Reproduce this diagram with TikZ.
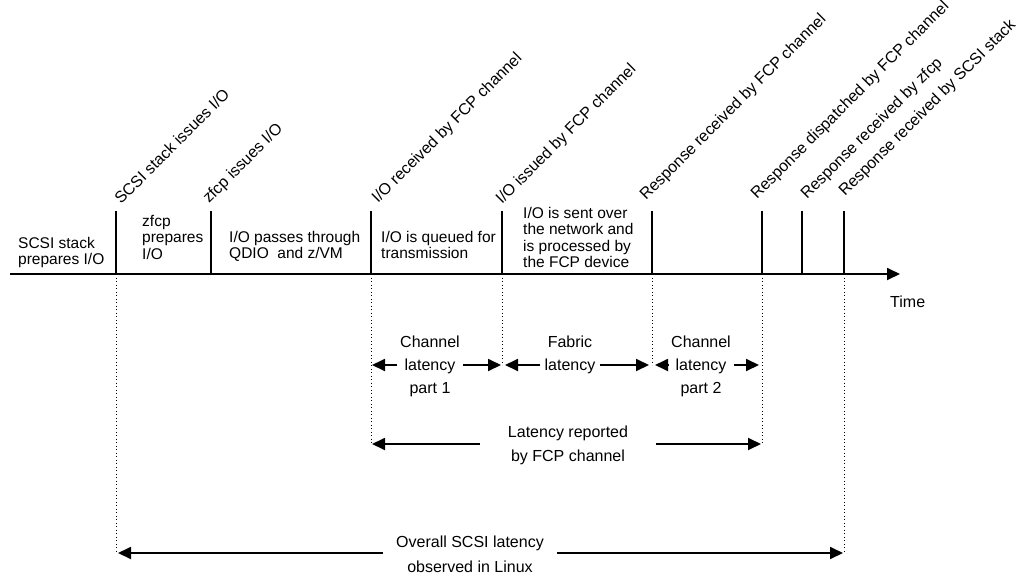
\documentclass[tikz,border=0pt]{standalone}
\usepackage{fontspec}
\setmainfont{Liberation Sans}
\usetikzlibrary{arrows.meta}
\begin{document}
\begin{tikzpicture}[x=1pt,y=-1pt,
  tip/.style={-{Triangle[length=13pt,width=12pt]}},
  axis/.style={line width=1.8pt, tip},
  tick/.style={line width=1.8pt},
  guide/.style={line width=1pt, dash pattern=on 1.2pt off 2.3pt},
  span/.style={line width=1.8pt, tip},
  phase/.style={inner sep=0pt, align=left, anchor=north west,
    font=\fontsize{15.5}{16.6}\selectfont},
  event/.style={inner sep=0pt, anchor=base west, rotate=45,
    font=\fontsize{16}{18}\selectfont},
  measure/.style={inner ysep=0pt, inner xsep=3pt, align=center, anchor=north,
    font=\fontsize{16}{23}\selectfont},
]
\useasboundingbox (0,0) rectangle (1024,575);

% event positions on the time axis
\foreach \n/\x in {1/116,2/211,3/371,4/502,5/652,6/762,7/802,8/844} {
  \coordinate (t\n) at (\x,274);
  \coordinate (h\n) at (\x,211);
}

% time axis
\coordinate (ax0) at (10,274);
\coordinate (ax1) at (900,274);
\draw[axis] (ax0) -- (ax1);
\node[anchor=base west, inner sep=0pt, font=\fontsize{16}{18}\selectfont] (time) at (890,307) {Time};

% event ticks
\foreach \n in {1,...,8} \draw[tick] (t\n) -- (h\n);

% event labels
\node[event] (e1) at (121,205) {SCSI stack issues I/O};
\node[event] (e2) at (209,204) {zfcp issues I/O};
\node[event] (e3) at (378,204) {I/O received by FCP channel};
\node[event] (e4) at (502,205) {I/O issued by FCP channel};
\node[event] (e5) at (646,201) {Response received by FCP channel};
\node[event] (e6) at (757,200) {Response dispatched by FCP channel};
\node[event] (e7) at (807,200) {Response received by zfcp};
\node[event] (e8) at (845,197) {Response received by SCSI stack};

% phase descriptions
\node[phase] (p0) at (18,236.7) {SCSI stack\\prepares I/O};
\node[phase] (p1) at (142,214.7) {zfcp\\prepares\\I/O};
\node[phase] (p2) at (229,230.7) {I/O passes through\\QDIO\ \ and z/VM};
\node[phase] (p3) at (381,230.7) {I/O is queued for\\transmission};
\node[phase] (p4) at (523,206.7) {I/O is sent over\\the network and\\is processed by\\the FCP device};

% guide lines below the axis
\coordinate (g1) at (116,553);
\coordinate (g3) at (371,444);
\coordinate (g4) at (502,365);
\coordinate (g5) at (652,365);
\coordinate (g6) at (762,444);
\coordinate (g8) at (844,553);
\foreach \n in {1,3,4,5,6,8} \draw[guide] (t\n) -- (g\n);

% arrow end points
\coordinate (r1a) at (372,365);
\coordinate (r1b) at (501,365);
\coordinate (r2a) at (505,365);
\coordinate (r2b) at (649,365);
\coordinate (r3a) at (655,365);
\coordinate (r3b) at (759,365);
\coordinate (r4a) at (372,444);
\coordinate (r4b) at (761,444);
\coordinate (r5a) at (118,553);
\coordinate (r5b) at (843,553);

% latency measures
\node[measure] (m1) at (430,335.4) {Channel\\latency\\part 1};
\node[measure, inner xsep=4pt] (m2) at (570,335.4) {Fabric\\latency};
\node[measure] (m3) at (701,335.4) {Channel\\latency\\part 2};
\node[measure, inner xsep=28pt, font=\fontsize{16}{24}\selectfont] (m4) at (568,425.4) {Latency reported\\by FCP channel};
\node[measure, inner xsep=13pt, font=\fontsize{16}{25}\selectfont] (m5) at (470,535.4) {Overall SCSI latency\\observed in Linux};

\draw[span] (m1.west |- r1a) -- (r1a);
\draw[span] (m1.east |- r1b) -- (r1b);
\draw[span] (m2.west |- r2a) -- (r2a);
\draw[span] (m2.east |- r2b) -- (r2b);
\draw[span] (m3.west |- r3a) -- (r3a);
\draw[span] (m3.east |- r3b) -- (r3b);
\draw[span] (m4.west |- r4a) -- (r4a);
\draw[span] (m4.east |- r4b) -- (r4b);
\draw[span] (m5.west |- r5a) -- (r5a);
\draw[span] (m5.east |- r5b) -- (r5b);
\end{tikzpicture}
\end{document}
